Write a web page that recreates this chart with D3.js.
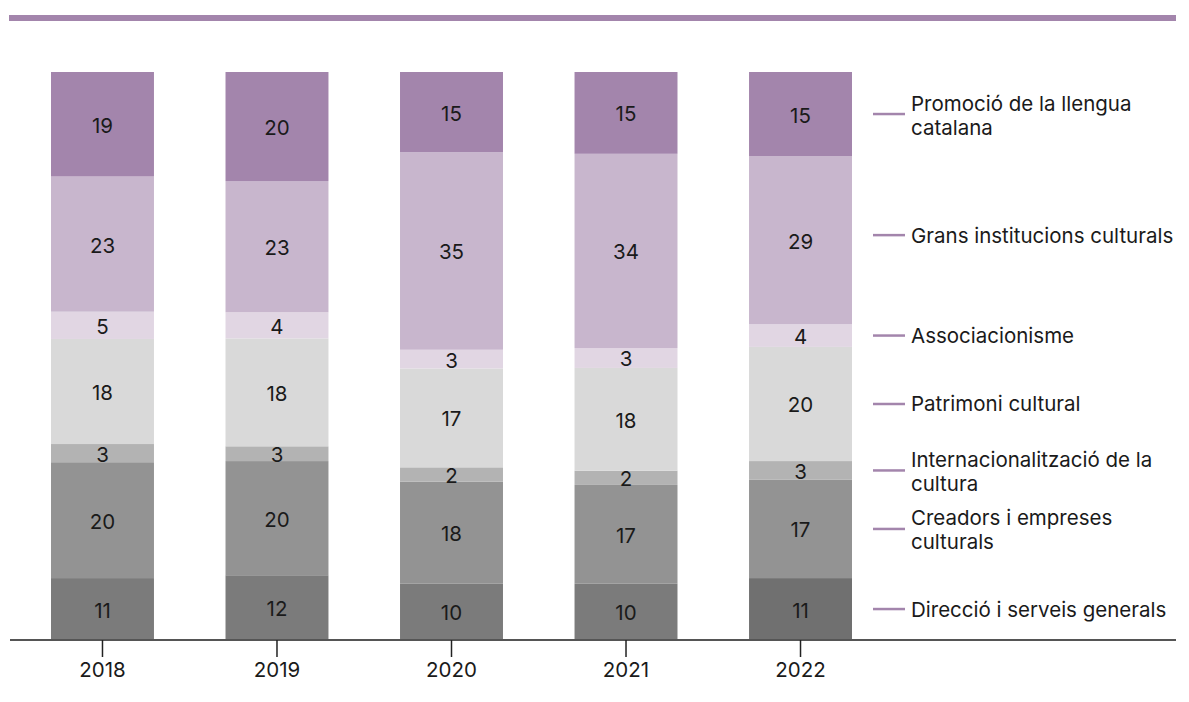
<!DOCTYPE html>
<html>
<head>
<meta charset="utf-8">
<script src="https://cdn.jsdelivr.net/npm/d3@7"></script>
<style>
  html, body { margin: 0; padding: 0; background: #fff; }
  svg { display: block; font-family: Inter, "Noto Sans", sans-serif; }
</style>
</head>
<body>
<svg id="chart" width="1189" height="702"></svg>
<script>
// ---- Data (share of budget, %) ----
const years = ["2018", "2019", "2020", "2021", "2022"];
const seriesNames = [
  "Direcció i serveis generals",
  "Creadors i empreses culturals",
  "Internacionalització de la cultura",
  "Patrimoni cultural",
  "Associacionisme",
  "Grans institucions culturals",
  "Promoció de la llengua catalana"
];
const direccio      = [10.9, 11.4, 9.9, 9.9, 10.9];
const creadors      = [20.4, 20.1, 18.0, 17.4, 17.3];
const internacional = [3.2, 2.6, 2.5, 2.5, 3.3];
const patrimoni     = [18.5, 19.0, 17.4, 18.1, 20.1];
const associacio    = [4.8, 4.6, 3.3, 3.5, 4.0];
const grans         = [23.8, 23.1, 34.8, 34.2, 29.6];
const promocio      = [18.4, 19.2, 14.1, 14.4, 14.8];

// labels printed on the bars
const direccioLbl      = [11, 12, 10, 10, 11];
const creadorsLbl      = [20, 20, 18, 17, 17];
const internacionalLbl = [3, 3, 2, 2, 3];
const patrimoniLbl     = [18, 18, 17, 18, 20];
const associacioLbl    = [5, 4, 3, 3, 4];
const gransLbl         = [23, 23, 35, 34, 29];
const promocioLbl      = [19, 20, 15, 15, 15];

const legendLines = [
  ["Direcció i serveis generals"],
  ["Creadors i empreses", "culturals"],
  ["Internacionalització de la", "cultura"],
  ["Patrimoni cultural"],
  ["Associacionisme"],
  ["Grans institucions culturals"],
  ["Promoció de la llengua", "catalana"]
];

// ---- Styles ----
const colors = ["#7b7b7b", "#939393", "#b3b3b3", "#d9d9d9", "#e1d6e3", "#c8b6cd", "#a385ac"];
const highlightBottom = "#707070"; // last year's bottom segment is darker
const purple = "#a385ac";
const FS = 20.5;

const seriesValues = [direccio, creadors, internacional, patrimoni, associacio, grans, promocio];
const seriesLabels = [direccioLbl, creadorsLbl, internacionalLbl, patrimoniLbl, associacioLbl, gransLbl, promocioLbl];
const table = years.map((y, i) => {
  const row = { year: y, idx: i };
  seriesNames.forEach((s, k) => row[s] = seriesValues[k][i]);
  return row;
});

const stack = d3.stack().keys(seriesNames);
const stacked = stack(table);

const svg = d3.select("#chart");

const x = d3.scaleBand().domain(years).range([51, 852]).paddingInner(0.41).paddingOuter(0);
const y = d3.scaleLinear().domain([0, 100]).range([640, 72]);

// top decorative rule
svg.append("rect").attr("x", 9).attr("y", 15).attr("width", 1167).attr("height", 6).attr("fill", purple);

// bars
const groups = svg.append("g").selectAll("g").data(stacked).join("g");
groups.each(function(layer, k) {
  const g = d3.select(this);
  g.selectAll("rect").data(layer).join("rect")
    .attr("x", d => x(d.data.year))
    .attr("width", x.bandwidth())
    .attr("y", d => y(d[1]))
    .attr("height", d => y(d[0]) - y(d[1]))
    .attr("fill", (d, i) => (k === 0 && i === years.length - 1) ? highlightBottom : colors[k]);
  g.selectAll("text").data(layer).join("text")
    .attr("x", d => x(d.data.year) + x.bandwidth() / 2)
    .attr("y", d => (y(d[0]) + y(d[1])) / 2 + 1)
    .attr("text-anchor", "middle")
    .attr("dominant-baseline", "central")
    .attr("font-size", FS)
    .attr("fill", "#1a1a1a")
    .text(d => seriesLabels[k][d.data.idx]);
});

// x axis
svg.append("line").attr("x1", 10).attr("x2", 1176).attr("y1", 640).attr("y2", 640)
  .attr("stroke", "#555").attr("stroke-width", 2);
const xAxis = d3.axisBottom(x).tickSize(17).tickPadding(5);
const ax = svg.append("g").attr("transform", "translate(0,640)").call(xAxis);
ax.select(".domain").remove();
ax.selectAll(".tick line").attr("stroke", "#222").attr("stroke-width", 1.5);
ax.selectAll(".tick text").attr("font-size", FS).attr("fill", "#1a1a1a").attr("font-family", "Inter, 'Noto Sans', sans-serif");

// legend aligned to last bar segments
const last = years.length - 1;
const legend = svg.append("g");
stacked.forEach((layer, k) => {
  const d = layer[last];
  let cy = (y(d[0]) + y(d[1])) / 2;
  if (k === 5) cy -= 5;
  const item = legend.append("g").attr("transform", `translate(0,${cy})`);
  item.append("line").attr("x1", 873).attr("x2", 905).attr("y1", 0).attr("y2", 0)
    .attr("stroke", purple).attr("stroke-width", 2.5);
  const lines = legendLines[k];
  const lh = 24;
  const start = lines.length > 1 ? -11 : 0;
  lines.forEach((t, j) => {
    item.append("text")
      .attr("x", 911)
      .attr("y", start + j * lh)
      .attr("dominant-baseline", "central")
      .attr("font-size", FS)
      .attr("fill", "#1a1a1a")
      .text(t);
  });
});
</script>
</body>
</html>
